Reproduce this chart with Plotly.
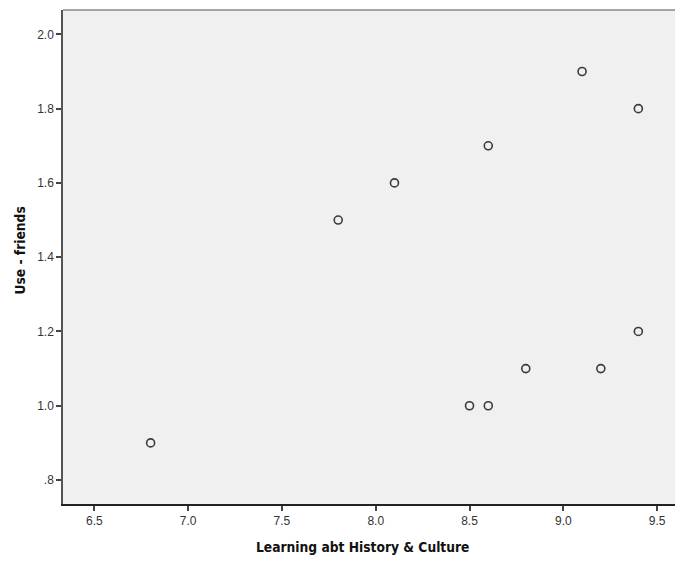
import plotly.graph_objects as go

learning = [6.8, 7.8, 8.1, 8.5, 8.6, 8.6, 8.8, 9.1, 9.2, 9.4, 9.4]
use_friends = [0.9, 1.5, 1.6, 1.0, 1.0, 1.7, 1.1, 1.9, 1.1, 1.8, 1.2]
x_ticks = [6.5, 7.0, 7.5, 8.0, 8.5, 9.0, 9.5]
x_tick_labels = ["6.5", "7.0", "7.5", "8.0", "8.5", "9.0", "9.5"]
y_ticks = [0.8, 1.0, 1.2, 1.4, 1.6, 1.8, 2.0]
y_tick_labels = [".8", "1.0", "1.2", "1.4", "1.6", "1.8", "2.0"]
x_title = "Learning abt History & Culture"
y_title = "Use - friends"

fig = go.Figure(go.Scatter(
    x=learning, y=use_friends, mode="markers",
    marker=dict(symbol="circle-open", size=8, color="#3a3a3a", line=dict(width=1.6)),
    hoverinfo="x+y",
))

title_font = dict(family="DejaVu Sans Condensed, DejaVu Sans, sans-serif", size=13.7,
                  color="#111111", weight="bold")

fig.update_layout(
    width=675, height=555,
    margin=dict(l=55, r=0, t=2, b=59),
    paper_bgcolor="white", plot_bgcolor="#f0f0f0",
    showlegend=False,
    font=dict(family="Liberation Sans, Arial, sans-serif", size=12, color="#333333"),
    annotations=[
        dict(text=x_title, xref="paper", yref="paper", x=0.483, y=0,
             xanchor="center", yanchor="middle", yshift=-43, showarrow=False, font=title_font),
        dict(text=y_title, xref="paper", yref="paper", x=0, y=0.512, textangle=-90,
             xanchor="center", yanchor="middle", xshift=-42.5, showarrow=False, font=title_font),
    ],
)
fig.update_xaxes(
    range=[6.333, 9.638], tickvals=x_ticks, ticktext=x_tick_labels,
    showgrid=False, zeroline=False, showline=True, linecolor="#222222", linewidth=1.5,
    mirror=False, ticks="outside", ticklen=5, tickwidth=1.5, tickcolor="#444444",
)
fig.update_yaxes(
    range=[0.7355, 2.0656], tickvals=y_ticks, ticktext=y_tick_labels,
    showgrid=False, zeroline=False, showline=True, linecolor="#555555", linewidth=1.5,
    ticks="outside", ticklen=5, tickwidth=1.5, tickcolor="#444444",
)
# top border line
fig.add_shape(type="line", xref="paper", yref="paper", x0=0, x1=1, y0=1, y1=1,
              line=dict(color="#888888", width=1.5))

fig.write_html("out.html")
